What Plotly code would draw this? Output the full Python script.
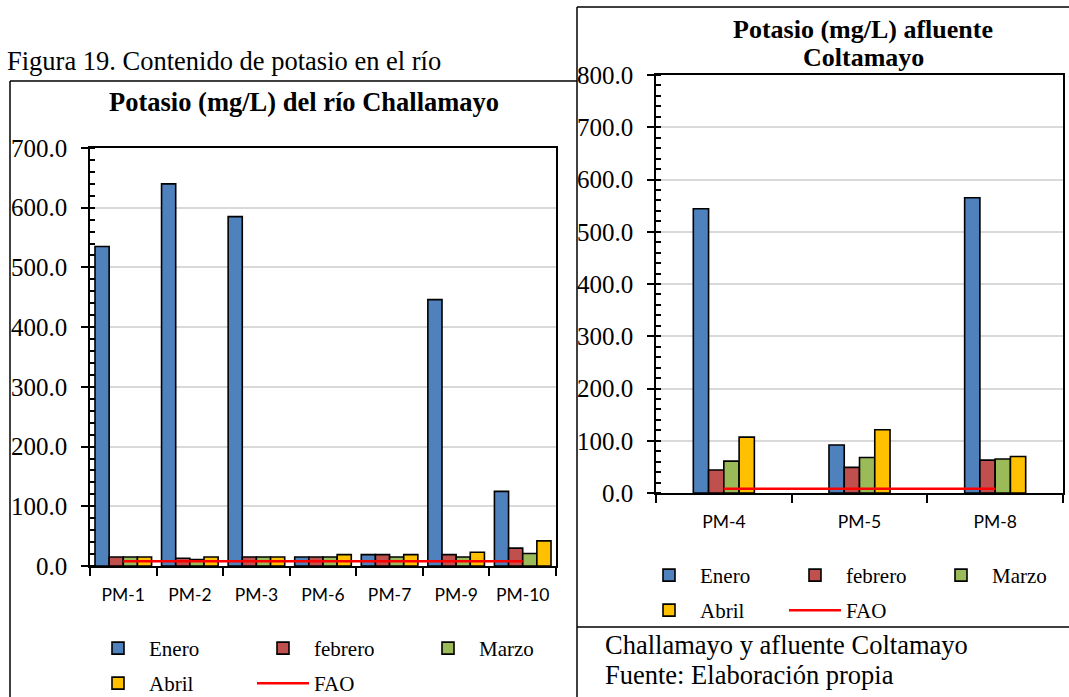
import plotly.graph_objects as go

# Rio Challamayo
cats_left = ['PM-1', 'PM-2', 'PM-3', 'PM-6', 'PM-7', 'PM-9', 'PM-10']
enero_left = [535, 640, 585, 15, 19, 446, 125]
febrero_left = [15, 13, 15, 15, 19, 19, 30]
marzo_left = [15, 11, 15, 15, 15, 15, 21]
abril_left = [15, 15, 15, 19, 19, 23, 42]
fao_left = [8, 8, 8, 8, 8, 8, 8]

# Afluente Coltamayo
cats_right = ['PM-4', 'PM-5', 'PM-8']
enero_right = [544, 92, 565]
febrero_right = [44, 49, 63]
marzo_right = [61, 68, 65]
abril_right = [107, 121, 70]
fao_right = [8, 8, 8]

months = ['Enero', 'febrero', 'Marzo', 'Abril']
colors = ['#4F81BD', '#C0504D', '#9BBB59', '#FFC000']

SERIF = 'Liberation Serif'
W, H = 1069, 697

fig = go.Figure()

left_series = [enero_left, febrero_left, marzo_left, abril_left]
right_series = [enero_right, febrero_right, marzo_right, abril_right]

# legend rows: first three months on row 1, Abril + FAO on row 2
for i, (name, col, vals) in enumerate(zip(months, colors, left_series)):
    fig.add_trace(go.Bar(x=cats_left, y=vals, name=name, marker_color=col,
                         marker_line=dict(color='black', width=1.6),
                         xaxis='x', yaxis='y',
                         legend='legend' if i < 3 else 'legend3'))
fig.add_trace(go.Scatter(x=cats_left, y=fao_left, name='FAO', mode='lines',
                         line=dict(color='#FF0000', width=2.5),
                         xaxis='x', yaxis='y', legend='legend3'))

# right chart has much wider gaps between groups than the left one
bw = 0.1125
for i, (name, col, vals) in enumerate(zip(months, colors, right_series)):
    fig.add_trace(go.Bar(x=cats_right, y=vals, name=name, marker_color=col,
                         marker_line=dict(color='black', width=1.6),
                         width=bw, offset=-2 * bw + i * bw,
                         xaxis='x2', yaxis='y2',
                         legend='legend2' if i < 3 else 'legend4'))
fig.add_trace(go.Scatter(x=cats_right, y=fao_right, name='FAO', mode='lines',
                         line=dict(color='#FF0000', width=2.5),
                         xaxis='x2', yaxis='y2', legend='legend4'))


def px_x(v):
    return v / W


def px_y(v):
    return 1 - v / H


xcommon = dict(type='category', showline=True, linecolor='black', linewidth=1.5,
               mirror=True, ticks='outside', ticklen=8, tickwidth=1.5,
               tickcolor='black', tickson='boundaries', showgrid=False,
               tickfont=dict(family='Lato', size=17.5, color='black'),
               ticklabelstandoff=12)
ycommon = dict(showline=True, linecolor='black', linewidth=1.5, mirror=True,
               ticks='outside', ticklen=7, tickwidth=1.5, tickcolor='black',
               tickformat='.1f', dtick=100, showgrid=True, gridcolor='#D9D9D9',
               gridwidth=1.5, zeroline=False,
               minor=dict(dtick=20, ticks='inside', ticklen=5, tickcolor='black',
                          tickwidth=1.5, showgrid=False),
               tickfont=dict(family=SERIF, size=25, color='black'),
               ticklabelstandoff=9)

legend_common = dict(orientation='h', xanchor='left', yanchor='top',
                     entrywidthmode='pixels', itemwidth=52, traceorder='normal',
                     font=dict(family=SERIF, size=21, color='black'),
                     bgcolor='rgba(0,0,0,0)')

fig.update_layout(
    width=W, height=H,
    margin=dict(l=0, r=0, t=0, b=0, autoexpand=False),
    paper_bgcolor='white', plot_bgcolor='white',
    barmode='group',
    bargap=0.15, bargroupgap=0,
    xaxis=dict(domain=[px_x(90), px_x(556)], anchor='y', **xcommon),
    yaxis=dict(domain=[px_y(566), px_y(148)], anchor='x', range=[0, 700], **ycommon),
    xaxis2=dict(domain=[px_x(656), px_x(1063)], anchor='y2', **xcommon),
    yaxis2=dict(domain=[px_y(493), px_y(75)], anchor='x2', range=[0, 800], **ycommon),
    legend=dict(x=px_x(87), y=px_y(628), entrywidth=98, **legend_common),
    legend3=dict(x=px_x(87), y=px_y(663), entrywidth=98, **legend_common),
    legend2=dict(x=px_x(638), y=px_y(555), entrywidth=79, **legend_common),
    legend4=dict(x=px_x(638), y=px_y(590), entrywidth=79, **legend_common),
    showlegend=True,
)

annotations = [
    dict(text='Figura 19. Contenido de potasio en el río', x=px_x(5), y=px_y(61),
         xanchor='left', font=dict(family=SERIF, size=26.5)),
    dict(text='<b>Potasio (mg/L) del río Challamayo</b>', x=px_x(304), y=px_y(102),
         xanchor='center', font=dict(family=SERIF, size=26.5)),
    dict(text='<b>Potasio (mg/L) afluente</b>', x=px_x(863), y=px_y(29),
         xanchor='center', font=dict(family=SERIF, size=26)),
    dict(text='<b>Coltamayo</b>', x=px_x(863), y=px_y(57),
         xanchor='center', font=dict(family=SERIF, size=26)),
    dict(text='Challamayo y afluente Coltamayo', x=px_x(603), y=px_y(645),
         xanchor='left', font=dict(family=SERIF, size=26.5)),
    dict(text='Fuente: Elaboración propia', x=px_x(603), y=px_y(675),
         xanchor='left', font=dict(family=SERIF, size=26.5)),
]
for a in annotations:
    a.update(xref='paper', yref='paper', showarrow=False, yanchor='middle')
    a['font']['color'] = 'black'
fig.update_layout(annotations=annotations)

box = dict(color='black', width=1.5)
shapes = [
    dict(type='line', x0=px_x(10), x1=px_x(577), y0=px_y(81), y1=px_y(81), line=box),
    dict(type='line', x0=px_x(10), x1=px_x(10), y0=px_y(81), y1=0, line=box),
    dict(type='line', x0=px_x(577), x1=px_x(577), y0=px_y(7), y1=0, line=box),
    dict(type='line', x0=px_x(577), x1=1, y0=px_y(7), y1=px_y(7), line=box),
    dict(type='line', x0=px_x(577), x1=1, y0=px_y(627), y1=px_y(627), line=box),
]
for s in shapes:
    s.update(xref='paper', yref='paper')
fig.update_layout(shapes=shapes)

# drop the browser's default page margin so the figure sits at the window corner
fig.write_html('out.html', config={'displayModeBar': False},
               post_script="document.body.style.margin='0px';")
